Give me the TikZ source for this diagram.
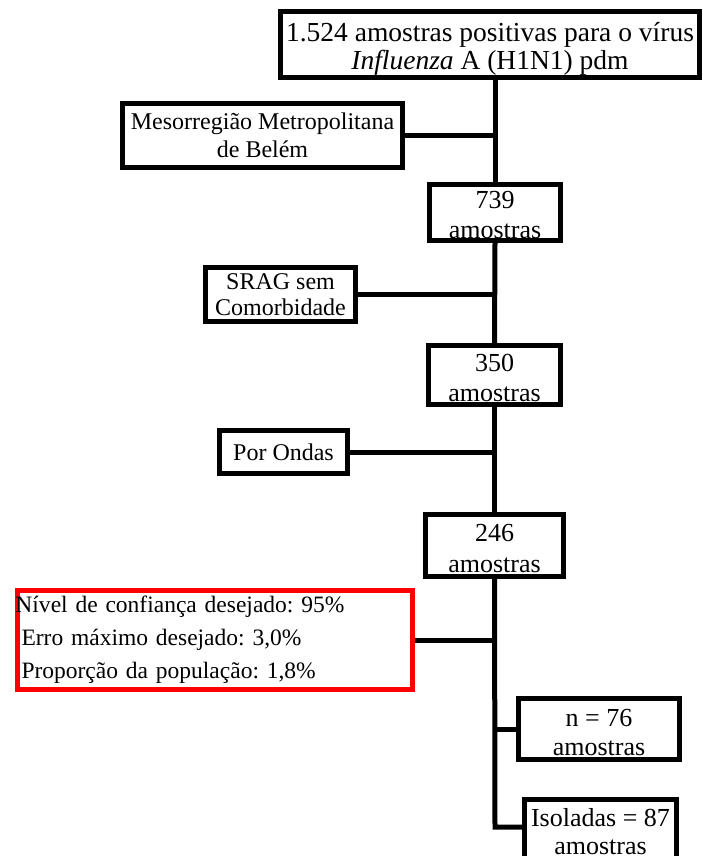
\documentclass[tikz,border=0pt]{standalone}
\usepackage{fontspec}
\setmainfont{Liberation Serif}
\frenchspacing
\newcommand{\dnstrut}[1]{\rule{0pt}{#1}}
\begin{document}
\begin{tikzpicture}[x=1pt,y=-1pt,
  bx/.style={draw=black,line width=5pt,fill=white,inner sep=0pt,align=center},
  ln/.style={draw=black,line width=5pt},
  topfont/.style={font=\fontsize{27.5}{28}\selectfont},
  sidefont/.style={font=\fontsize{24}{25.5}\selectfont},
  cntfont/.style={font=\fontsize{26}{30}\selectfont}]
\useasboundingbox (0,0) rectangle (702,856);

\node[bx,topfont,minimum width=419pt,minimum height=66pt] (top) at (490,44.5)
  {\dnstrut{28pt}1.524 amostras positivas para o vírus\\\textit{Influenza} A (H1N1) pdm};
\node[bx,sidefont,font=\fontsize{24}{28}\selectfont,minimum width=280pt,minimum height=64pt] (meso) at (262.5,135.5)
  {Mesorregião Metropolitana\\de Belém};
\node[bx,cntfont,minimum width=131pt,minimum height=56pt] (b739) at (495,212.5) {\dnstrut{23pt}739\\amostras};
\node[bx,sidefont,minimum width=150pt,minimum height=54pt] (srag) at (280.5,294.5) {SRAG sem\\Comorbidade};
\node[bx,cntfont,minimum width=132pt,minimum height=59pt] (b350) at (494.5,375) {\dnstrut{24pt}350\\amostras};
\node[bx,sidefont,minimum width=128pt,minimum height=43pt] (ondas) at (283.5,452) {Por Ondas};
\node[bx,cntfont,font=\fontsize{26}{31}\selectfont,minimum width=138pt,minimum height=62pt] (b246) at (494.5,545.5) {\dnstrut{23pt}246\\amostras};
\node[draw=red,line width=4.5pt,fill=white,inner xsep=0pt,inner ysep=0pt,align=left,
  text width=395pt,minimum height=99pt,font=\fontsize{23.5}{33}\selectfont] (cfg) at (215,640)
  {\hspace*{-2pt}Nível de confiança desejado: 95\%\\
   \hspace*{4pt}Erro máximo desejado: 3,0\%\\
   \hspace*{4pt}Proporção da população: 1,8\%};
\node[bx,cntfont,font=\fontsize{26}{29}\selectfont,minimum width=161pt,minimum height=61pt] (n76) at (599,729) {\dnstrut{24pt}n = 76\\amostras};
\node[bx,cntfont,font=\fontsize{26}{28}\selectfont,minimum width=152pt,minimum height=62pt] (iso) at (600.5,830) {\dnstrut{21pt}Isoladas = 87\\amostras};

\coordinate (jiso) at (495,827);
\draw[ln] (b739.north) -- (b739.north |- top.south);
\draw[ln] (meso.east) -- (meso.east -| b739.north);
\draw[ln] (b350.north) -- (b739.south);
\draw[ln] (srag.east) -- (srag.east -| b350.north);
\draw[ln] (b246.north) -- (b246.north |- b350.south);
\draw[ln] (ondas.east) -- (ondas.east -| b246.north);
\draw[ln,line join=miter] (b246.south) -- (jiso) -- (iso.west |- jiso);
\draw[ln] (cfg.east) -- (cfg.east -| b246.south);
\draw[ln] (n76.west) -- (n76.west -| b246.south);
\end{tikzpicture}
\end{document}
